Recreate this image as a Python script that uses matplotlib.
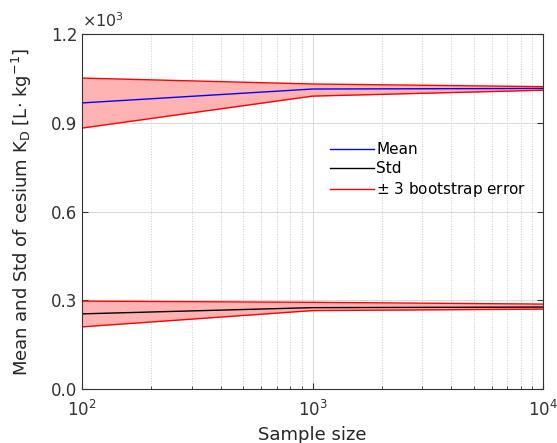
import matplotlib.pyplot as plt
import numpy as np

sample_size = [100, 1000, 10000]

mean_kd = [0.967, 1.014, 1.016]
mean_upper = [1.051, 1.031, 1.022]
mean_lower = [0.882, 0.990, 1.010]

std_kd = [0.254, 0.275, 0.277]
std_upper = [0.297, 0.293, 0.287]
std_lower = [0.210, 0.265, 0.270]

yticks = [0.0, 0.3, 0.6, 0.9, 1.2]

fig = plt.figure(figsize=(5.57, 4.43), dpi=100)
ax = fig.add_axes([82/557, 1 - 389/443, (543-82)/557, (389-34)/443])

# bands
ax.fill_between(sample_size, mean_lower, mean_upper, color='#ffb3b3', lw=0)
ax.fill_between(sample_size, std_lower, std_upper, color='#ffb3b3', lw=0)

ax.plot(sample_size, mean_kd, color='blue', lw=1.0, label='Mean')
ax.plot(sample_size, std_kd, color='black', lw=1.0, label='Std')
ax.plot(sample_size, mean_upper, color='red', lw=1.0, label=r'$\pm$ 3 bootstrap error')
ax.plot(sample_size, mean_lower, color='red', lw=1.0)
ax.plot(sample_size, std_upper, color='red', lw=1.0)
ax.plot(sample_size, std_lower, color='red', lw=1.0)

ax.set_xscale('log')
ax.set_xlim(100, 10000)
ax.set_ylim(0, 1.2)
ax.set_yticks(yticks)
ax.set_yticklabels(['%.1f' % v for v in yticks])

ax.grid(True, which='major', color='#d9d9d9', lw=0.7, ls='-')
ax.grid(True, which='minor', axis='x', color='#cccccc', lw=0.7, ls=':')
ax.set_axisbelow(True)

ax.tick_params(which='both', direction='in', top=False, right=True, colors='#333333',
               labelsize=12, length=4)
ax.tick_params(which='minor', length=2)
ax.tick_params(axis='x', pad=8)
for s in ax.spines.values():
    s.set_color('#333333')
    s.set_linewidth(0.8)

ax.text(0.0, 1.01, r'$\times10^3$', transform=ax.transAxes, fontsize=11.5,
        color='#333333', va='bottom', ha='left')

ax.set_xlabel('Sample size', fontsize=13, color='#262626', labelpad=4)
ax.set_ylabel(r'Mean and Std of cesium K$_\mathregular{D}$ [L$\cdot$ kg$^\mathregular{-1}$]',
              fontsize=13, color='#262626', labelpad=12)

leg = ax.legend(loc='upper left', bbox_to_anchor=(0.537, 0.695), frameon=False,
                fontsize=11, handlelength=2.9, handletextpad=0.15, labelspacing=0.25,
                borderaxespad=0, borderpad=0)

plt.savefig('out.png')
